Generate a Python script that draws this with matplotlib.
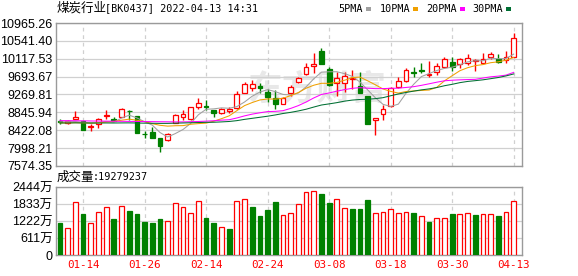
import matplotlib
matplotlib.use('Agg')
import matplotlib.pyplot as plt
from matplotlib.patches import Rectangle
import numpy as np
import pandas as pd

# ---------------- data ----------------
dates = ['01-11', '01-12', '01-13', '01-14', '01-17', '01-18', '01-19', '01-20', '01-21', '01-24',
         '01-25', '01-26', '01-27', '01-28', '02-07', '02-08', '02-09', '02-10', '02-11', '02-14',
         '02-15', '02-16', '02-17', '02-18', '02-21', '02-22', '02-23', '02-24', '02-25', '02-28',
         '03-01', '03-02', '03-03', '03-04', '03-07', '03-08', '03-09', '03-10', '03-11', '03-14',
         '03-15', '03-16', '03-17', '03-18', '03-21', '03-22', '03-23', '03-24', '03-25', '03-28',
         '03-29', '03-30', '03-31', '04-01', '04-06', '04-07', '04-08', '04-11', '04-12', '04-13']

opens = [8640, 8592, 8680, 8639, 8490, 8575, 8751, 8687, 8742, 8884,
         8751, 8338, 8371, 8243, 8181, 8599, 8742, 8694, 8965, 9003,
         8900, 8822, 8884, 8941, 9311, 9430, 9471, 9335, 9178, 9043,
         9297, 9573, 9748, 9946, 10302, 9867, 9535, 9535, 9637, 9478,
         9233, 8663, 8798, 8996, 9440, 9589, 9810, 9851, 9732, 9810,
         9915, 10048, 9993, 10024, 10057, 10024, 10167, 10105, 10088, 10152]
highs = [8700, 8663, 8877, 8639, 8561, 8704, 8893, 8734, 8955, 8893,
         8758, 8409, 8490, 8243, 8355, 8806, 8900, 8979, 9178, 9131,
         8900, 8941, 8979, 9352, 9573, 9613, 9535, 9392, 9376, 9209,
         9494, 9677, 10024, 10247, 10366, 9929, 9810, 9810, 9851, 9796,
         9233, 8718, 9019, 9454, 9677, 9891, 9929, 10010, 10072, 10024,
         10152, 10152, 10128, 10231, 10105, 10247, 10285, 10231, 10309, 10736]
lows = [8580, 8568, 8680, 8426, 8409, 8480, 8687, 8639, 8727, 8663,
        8361, 8243, 8243, 7896, 8164, 8585, 8663, 8663, 8924, 8900,
        8742, 8806, 8836, 8917, 9297, 9352, 9297, 9083, 8924, 9036,
        9233, 9549, 9732, 9772, 9985, 9471, 9233, 9335, 9399, 9311,
        8561, 8307, 8663, 8965, 9416, 9573, 9692, 9787, 9692, 9732,
        9891, 9834, 9891, 9969, 9834, 9993, 10105, 10010, 10024, 10152]
closes = [8625, 8639, 8734, 8433, 8528, 8680, 8782, 8639, 8924, 8870,
          8361, 8324, 8243, 8046, 8331, 8775, 8806, 8965, 9074, 8979,
          8822, 8924, 8917, 9274, 9525, 9510, 9416, 9202, 9036, 9193,
          9440, 9653, 9929, 9993, 9985, 9487, 9653, 9708, 9672, 9311,
          8561, 8718, 8924, 9416, 9589, 9851, 9787, 9834, 9767, 9953,
          10105, 9929, 10105, 10128, 10081, 10105, 10231, 10048, 10152, 10603]
volumes = [1161, 960, 1894, 1474, 1139, 1535, 1714, 1294, 1750, 1581,
           1474, 1186, 1161, 1294, 1211, 1858, 1714, 1510, 1930, 1330,
           1150, 996, 934, 1930, 2002, 1725, 1402, 1617, 1905, 1427,
           1509, 1833, 2253, 2289, 2192, 1869, 2002, 1678, 1653, 1653,
           1977, 1509, 1535, 1642, 1499, 1535, 1509, 1391, 1186, 1319,
           1319, 1474, 1463, 1499, 1438, 1463, 1463, 1402, 1535, 1928]  # 万

# moving-average values read off the chart where the window is not yet full
ma5_head = [8620, 8625, 8630, 8610]
ma10_head = [8595, 8595, 8600, 8595, 8590, 8600, 8615, 8630, 8660]
ma20_head = [8650, 8650, 8648, 8645, 8642, 8640, 8638, 8636, 8634, 8632,
             8630, 8628, 8626, 8624, 8622, 8620, 8620, 8625, 8630]
ma30_head = [8595, 8595, 8598, 8596, 8594, 8593, 8595, 8594, 8596, 8597,
             8594, 8590, 8588, 8585, 8585, 8590, 8595, 8600, 8605, 8610,
             8612, 8620, 8630, 8650, 8680, 8705, 8730, 8755, 8785]

tick_dates = ['01-14', '01-26', '02-14', '02-24', '03-08', '03-18', '03-30', '04-13']
price_ticks = [10965.26, 10541.40, 10117.53, 9693.67, 9269.81, 8845.94, 8422.08, 7998.21, 7574.35]
vol_ticks = [0, 611, 1222, 1833, 2444]
vol_tick_labels = ['0', '611万', '1222万', '1833万', '2444万']
title_cn = '煤炭行业'
title_rest = '[BK0437] 2022-04-13 14:31'
vol_label_cn = '成交量'
vol_label_rest = ':19279237'
ma_names = ['5PMA', '10PMA', '20PMA', '30PMA']

# ---------------- style ----------------
RED = '#ff0000'
GREEN = '#008000'
MA_COLORS = ['#a0a0a0', '#f0a000', '#ff00ff', '#006f33']
GRID = '#d0d0d0'
SPINE = '#9a9a9a'
MONO = ['DejaVu Sans Mono']
CJK = ['Noto Sans CJK SC']
plt.rcParams['font.family'] = ['Liberation Sans', 'Noto Sans CJK SC', 'DejaVu Sans']

W, H = 578, 276
def fx(px): return px / W
def fy(py): return 1 - py / H

fig = plt.figure(figsize=(W / 100, H / 100), dpi=100)
fig.patch.set_facecolor('white')

ax = fig.add_axes([fx(56), fy(166), fx(522) - fx(56), fy(23) - fy(166)])
axv = fig.add_axes([fx(56), fy(255), fx(522) - fx(56), fy(187) - fy(255)])

n = len(dates)
x = np.arange(n)
o = np.array(opens, float); c = np.array(closes, float)
h = np.array(highs, float); l = np.array(lows, float)
up = c >= o
col = np.where(up, RED, GREEN)

# candles
ax.vlines(x, l, h, colors=col, linewidth=1.0, zorder=3)
ax.bar(x, np.abs(c - o), bottom=np.minimum(o, c), width=0.62,
       facecolor=np.where(up, 'white', GREEN), edgecolor=col, linewidth=0.9, zorder=4)

# moving averages
s = pd.Series(c)
for nn, head, colr in zip([5, 10, 20, 30], [ma5_head, ma10_head, ma20_head, ma30_head], MA_COLORS):
    ma = s.rolling(nn).mean().to_numpy()
    ma[:len(head)] = head
    ax.plot(x, ma, color=colr, linewidth=0.75, zorder=5)

# watermark
ax.text(0.562, 0.535, '东方财富', transform=ax.transAxes, ha='center', va='center',
        fontsize=25, fontweight='bold', color='#e8e8e8', family=CJK, zorder=0.5)

# volume
prev = np.concatenate([[o[0]], c[:-1]])
vup = c >= prev
vcol = np.where(vup, RED, GREEN)
axv.bar(x, volumes, width=0.62, facecolor=np.where(vup, 'white', GREEN),
        edgecolor=vcol, linewidth=0.9, zorder=3)

tick_idx = [dates.index(d) for d in tick_dates]
for a in (ax, axv):
    a.set_xlim(-0.52, 60.08)
    a.set_xticks(tick_idx)
    a.set_axisbelow(True)
    for sp in a.spines.values():
        sp.set_color(SPINE)
        sp.set_linewidth(1.0)
    a.tick_params(length=0, pad=2.5, labelsize=9, colors='black')
    for xi in tick_idx:
        a.axvline(xi, color=GRID, linewidth=0.9, linestyle=(0, (3, 3)), zorder=1)

ax.set_ylim(price_ticks[-1], price_ticks[0])
ax.set_yticks(price_ticks)
ax.set_yticklabels([f'{v:.2f}' for v in price_ticks])
for v in price_ticks:
    ax.axhline(v, color=GRID, linewidth=0.9, zorder=1)
ax.tick_params(labelbottom=False)

axv.set_ylim(0, 2444)
axv.set_yticks(vol_ticks)
axv.set_yticklabels(vol_tick_labels)
for v in vol_ticks:
    axv.axhline(v, color=GRID, linewidth=0.9, zorder=1)
axv.set_xticklabels(tick_dates)
axv.tick_params(axis='x', pad=3.5, colors=RED)
for t in axv.get_xticklabels():
    t.set_family(MONO)
    t.set_fontsize(7.8)
    t.set_color(RED)

# title texts
fig.text(fx(57), fy(8.5), title_cn, family=CJK, fontsize=9, va='center', ha='left')
fig.text(fx(105), fy(8.5), title_rest, family=MONO, fontsize=7.3, va='center', ha='left')
fig.text(fx(57), fy(177.5), vol_label_cn, family=CJK, fontsize=9, va='center', ha='left')
fig.text(fx(93), fy(177.5), vol_label_rest, family=MONO, fontsize=7.3, va='center', ha='left')

# legend
leg_x = [338, 380, 426, 472]
sq_x = [366, 413, 460, 506]
for name, lx, sx, colr in zip(ma_names, leg_x, sq_x, MA_COLORS):
    fig.text(fx(lx), fy(8.5), name, family=MONO, fontsize=7.3, va='center', ha='left')
    fig.add_artist(Rectangle((fx(sx), fy(11)), 5 / W, 4 / H, transform=fig.transFigure,
                             facecolor=colr, edgecolor='none'))

fig.savefig('out.png', dpi=100, facecolor='white')
